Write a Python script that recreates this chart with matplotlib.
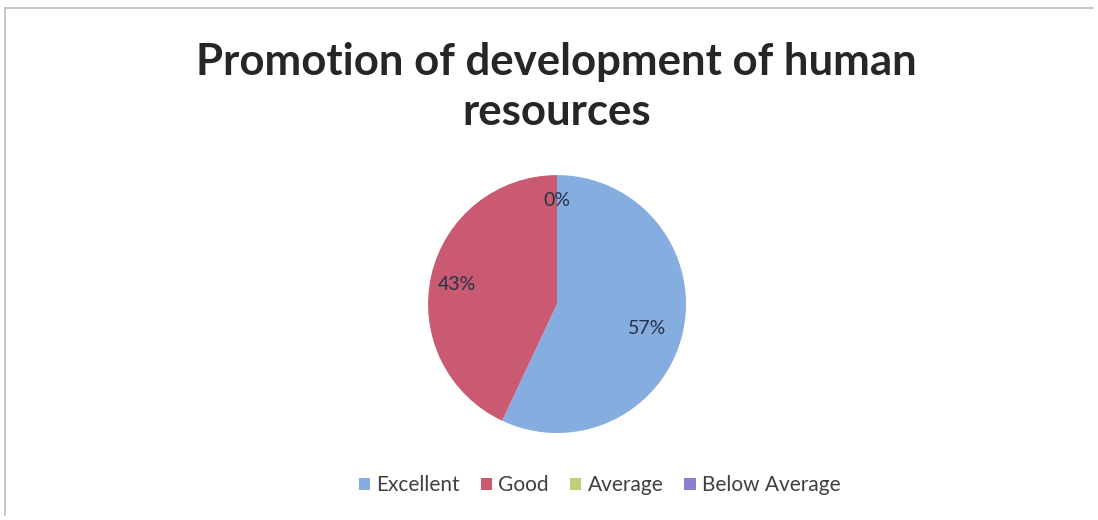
import matplotlib
matplotlib.use("Agg")
import matplotlib.pyplot as plt
from matplotlib.lines import Line2D
from matplotlib.patches import Patch

# ratings and share of responses (%)
categories = ["Excellent", "Good", "Average", "Below Average"]
shares = [57, 43, 0, 0]
colors = ["#85ade0", "#c95a72", "#c3cc7a", "#8a7fcc"]

plt.rcParams['font.family'] = ['Lato', 'DejaVu Sans']

fig = plt.figure(figsize=(10.98, 5.2), dpi=100)

# light frame around the chart area (only top/left show in the scan)
fig.add_artist(Line2D([0.005, 0.995], [0.985, 0.985], color="#bdbdbd", lw=1.2))
fig.add_artist(Line2D([0.005, 0.005], [0.985, 0.01], color="#bdbdbd", lw=1.2))

fig.text(0.507, 0.833, "Promotion of development of human\nresources",
         ha="center", va="center", fontsize=31.5, fontweight="bold",
         color="#262626", linespacing=1.3)

ax = fig.add_axes([0.3898, 0.1673, 0.235, 0.496])
wedges, texts, autotexts = ax.pie(
    shares, colors=colors, startangle=90, counterclock=False,
    autopct=lambda p: f"{p:.0f}%", pctdistance=0.72,
    wedgeprops=dict(linewidth=0),
    textprops=dict(fontsize=14, color="#27324a"))
# two zero slices sit on top of each other; keep one label
autotexts[3].set_visible(False)
autotexts[2].set_position((0, 0.8))
autotexts[0].set_position((0.7, -0.19))
autotexts[1].set_position((-0.78, 0.15))
ax.set_xlim(-1, 1)
ax.set_ylim(-1, 1)
ax.set_aspect("equal")

handles = [Patch(facecolor=c, edgecolor="none") for c in colors]
fig.legend(handles, categories, loc="center", bbox_to_anchor=(0.546, 0.067),
           ncol=4, frameon=False, fontsize=15, handlelength=0.55,
           handleheight=0.55, handletextpad=0.3, columnspacing=1.0,
           labelcolor="#404040")

fig.savefig("out.png", dpi=100)
